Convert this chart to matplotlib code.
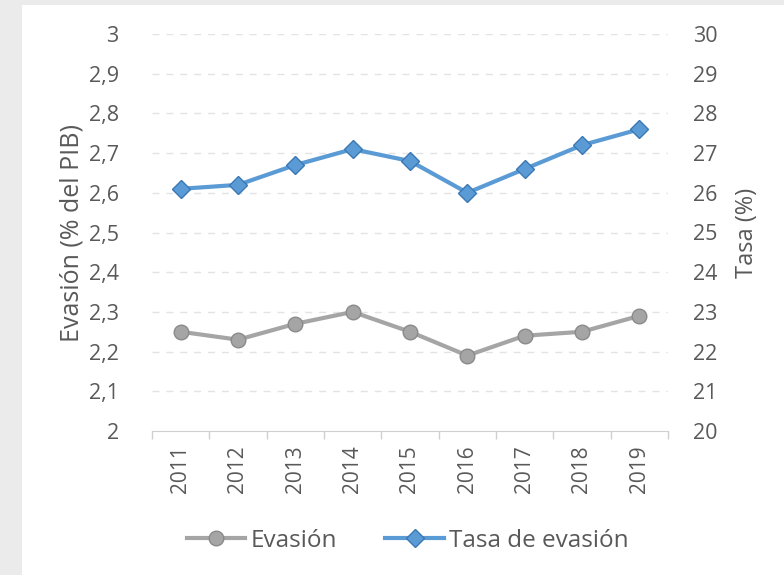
import matplotlib
matplotlib.use("Agg")
import matplotlib.pyplot as plt
from matplotlib.patches import Rectangle
from matplotlib.ticker import FixedLocator

plt.rcParams['font.family'] = ['Open Sans', 'DejaVu Sans']

# datos
years = ['2011', '2012', '2013', '2014', '2015', '2016', '2017', '2018', '2019']
evasion = [2.25, 2.23, 2.27, 2.30, 2.25, 2.19, 2.24, 2.25, 2.29]
tasa = [26.1, 26.2, 26.7, 27.1, 26.8, 26.0, 26.6, 27.2, 27.6]

left_ticks = [2.0, 2.1, 2.2, 2.3, 2.4, 2.5, 2.6, 2.7, 2.8, 2.9, 3.0]
left_labels = ['2', '2,1', '2,2', '2,3', '2,4', '2,5', '2,6', '2,7', '2,8', '2,9', '3']
right_ticks = [20, 21, 22, 23, 24, 25, 26, 27, 28, 29, 30]

txt = '#595959'
gray = '#a5a5a5'
blue = '#5b9bd5'

fig = plt.figure(figsize=(7.84, 5.75), dpi=100)
fig.patch.set_facecolor('#ebebeb')
# panel blanco
fig.patches.append(Rectangle((22 / 784, 0), 1 - 22 / 784, 1 - 5 / 575,
                             transform=fig.transFigure, facecolor='white',
                             edgecolor='none', zorder=-10))

ax = fig.add_axes([152 / 784, 1 - 431 / 575, 516 / 784, 397 / 575])
ax.set_facecolor('none')
ax2 = ax.twinx()

x = list(range(len(years)))

# grid
for t in left_ticks[1:]:
    ax.axhline(t, color='#e3e3e3', lw=1, ls=(0, (5, 5)), zorder=0)

l1, = ax.plot(x, evasion, color=gray, lw=3, marker='o', markersize=10.5,
              markerfacecolor=gray, markeredgecolor='#8a8a8a', markeredgewidth=1,
              label='Evasión', zorder=3)
l2, = ax2.plot(x, tasa, color=blue, lw=3, marker='D', markersize=9,
               markerfacecolor=blue, markeredgecolor='#3a78b5', markeredgewidth=1,
               label='Tasa de evasión', zorder=3)

ax.set_xlim(-0.5, len(years) - 0.5)
ax.set_ylim(2, 3)
ax2.set_ylim(20, 30)

ax.set_yticks(left_ticks)
ax.set_yticklabels(left_labels)
ax2.set_yticks(right_ticks)

ax.set_xticks(x)
ax.set_xticklabels(years, rotation=90)
ax.xaxis.set_minor_locator(FixedLocator([i - 0.5 for i in range(len(years) + 1)]))

ax.tick_params(axis='x', which='major', length=0, pad=10, labelsize=15, colors=txt)
ax.tick_params(axis='x', which='minor', length=6, width=1, color='#d0d0d0')
ax.tick_params(axis='y', length=0, pad=24, labelsize=15.5, colors=txt)
ax2.tick_params(axis='y', length=0, pad=18, labelsize=15.5, colors=txt)

for a in (ax, ax2):
    for s in a.spines.values():
        s.set_visible(False)
ax.spines['bottom'].set_visible(True)
ax.spines['bottom'].set_color('#d0d0d0')

ax.set_ylabel('Evasión (% del PIB)', fontsize=18, color=txt)
ax.yaxis.set_label_coords(-0.13, 0.5)
ax2.set_ylabel('Tasa (%)', fontsize=17, color=txt)
ax2.yaxis.set_label_coords(1.13, 0.5)

fig.legend(handles=[l1, l2], loc='center', bbox_to_anchor=(0.52, 1 - 541 / 575),
           ncol=2, frameon=False, fontsize=17.5, labelcolor=txt,
           handlelength=2.4, handletextpad=0.2, columnspacing=2.0)

fig.savefig('out.png', dpi=100, facecolor=fig.get_facecolor())
